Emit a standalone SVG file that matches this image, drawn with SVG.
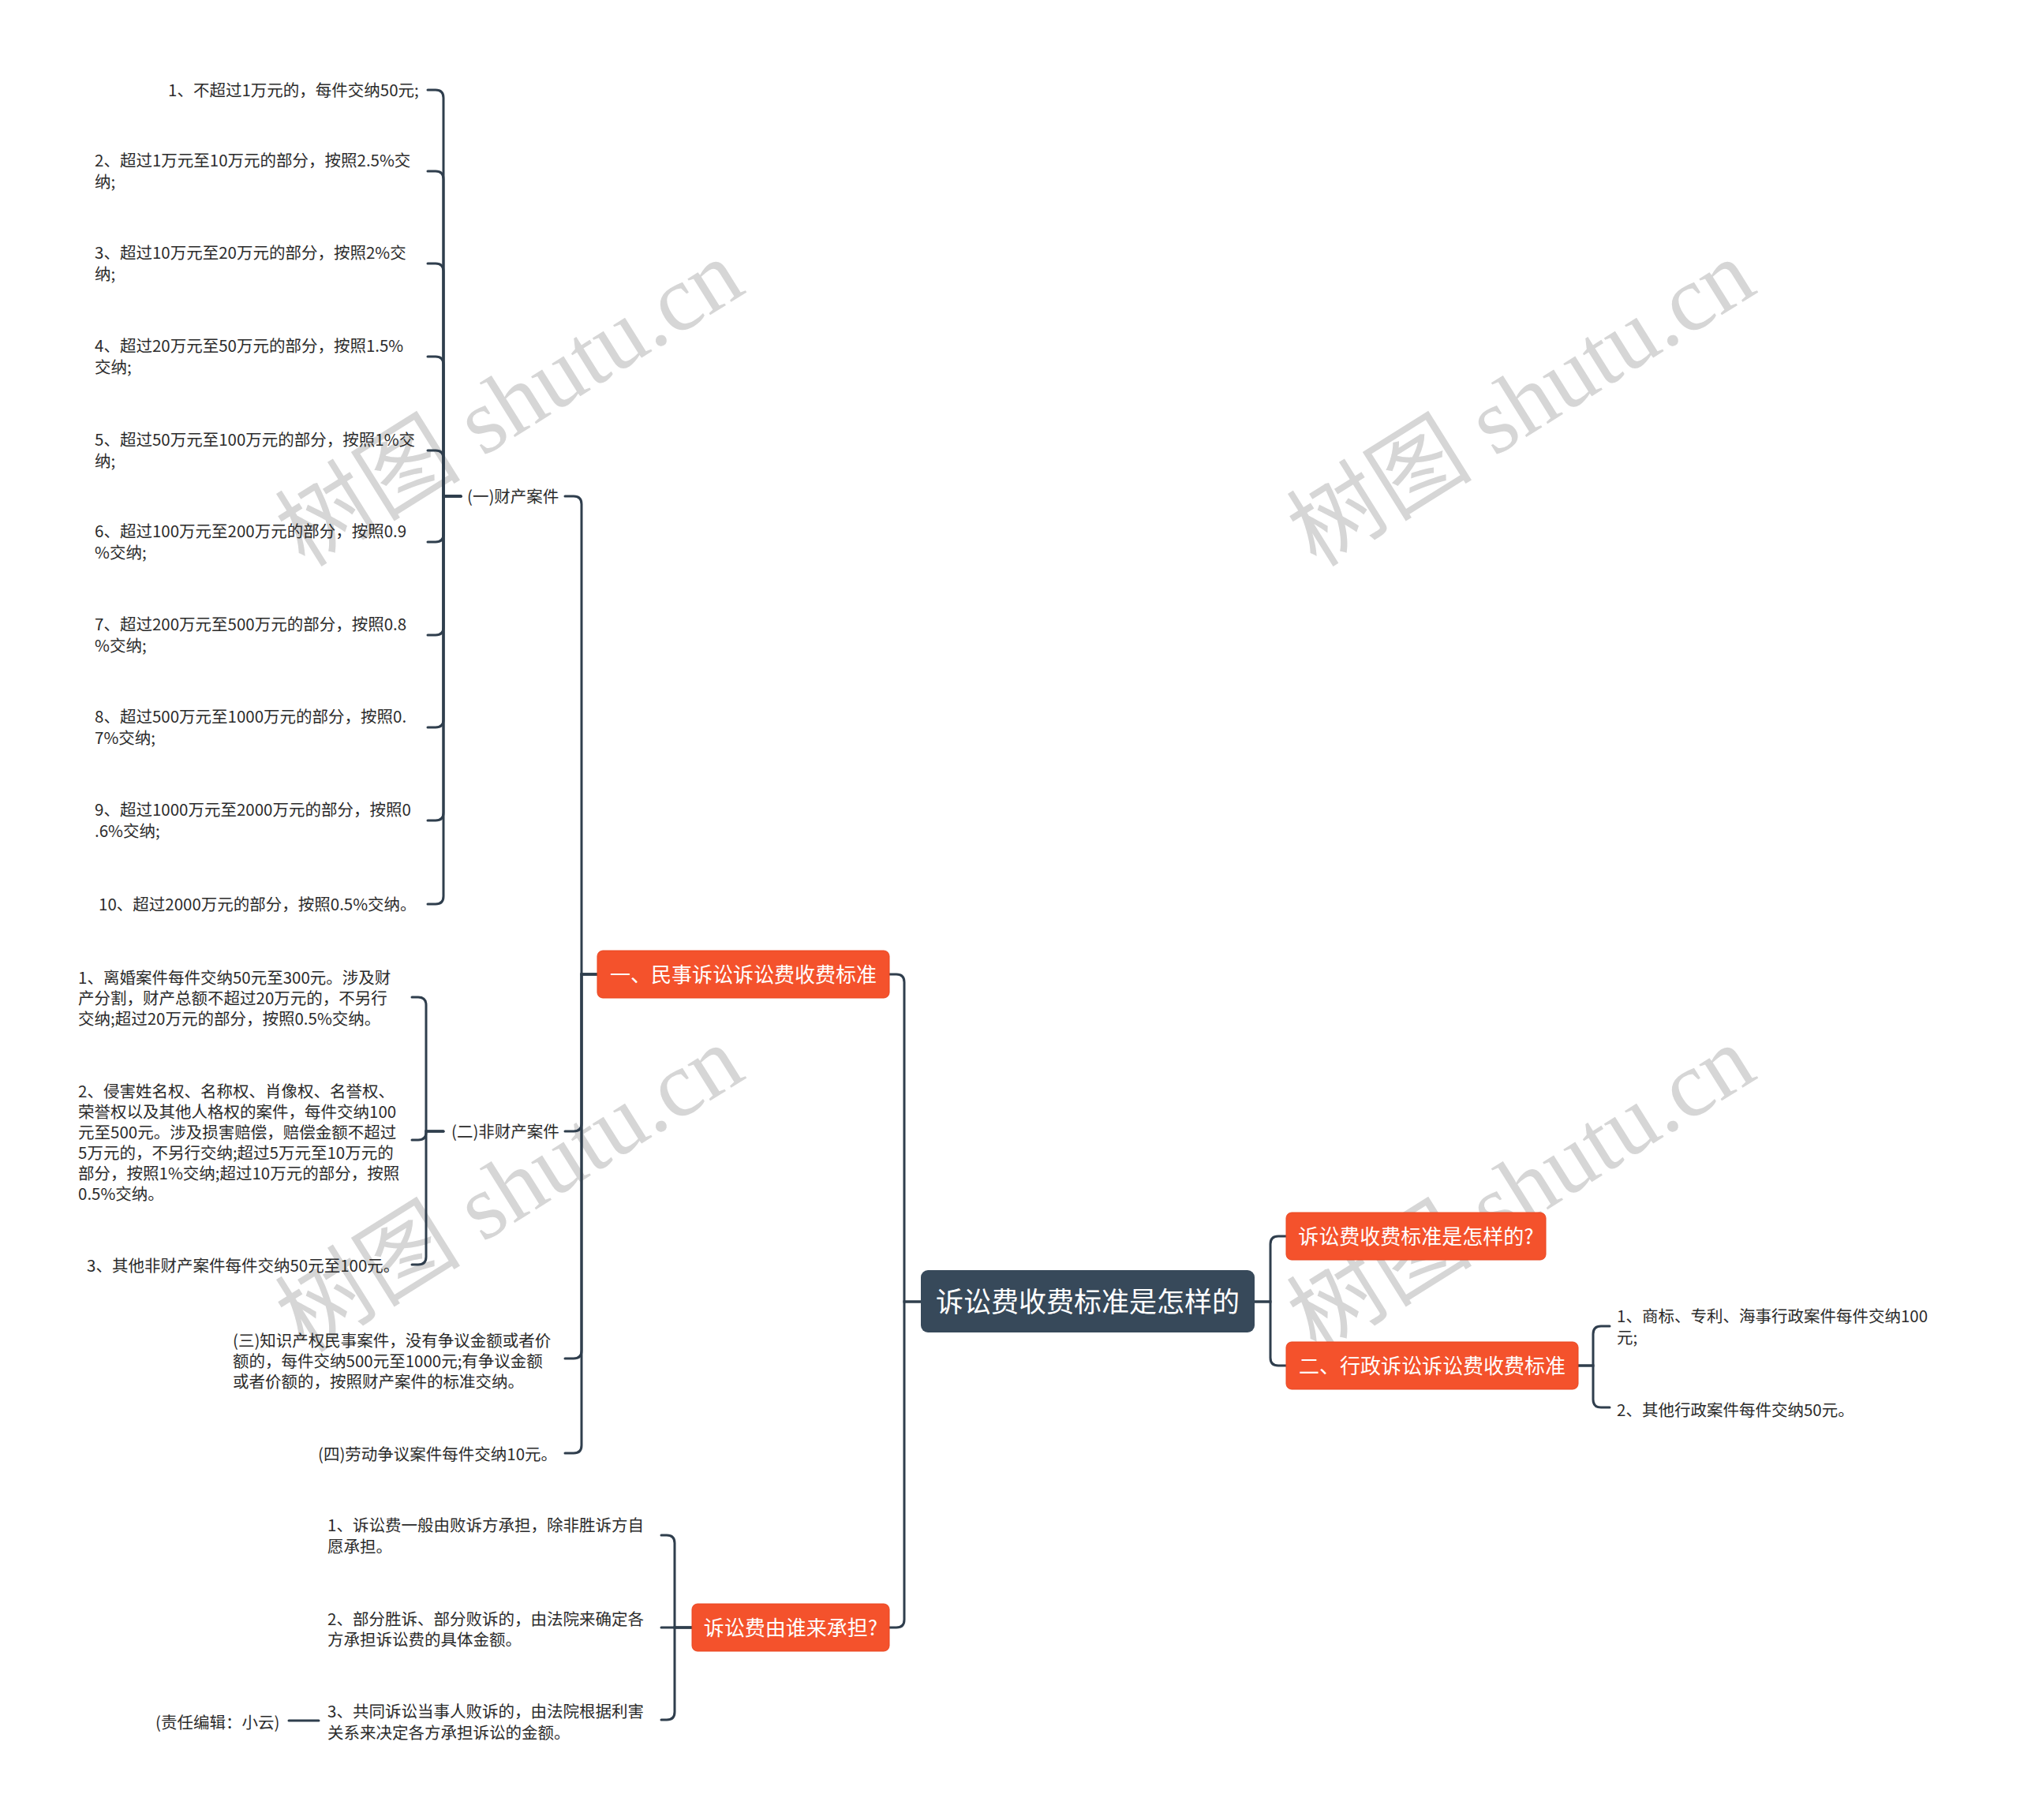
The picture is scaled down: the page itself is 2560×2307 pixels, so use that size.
<svg xmlns="http://www.w3.org/2000/svg" width="2560" height="2307" viewBox="0 0 2560 2307">
<style>
.wm{font-family:"Liberation Serif","Noto Sans CJK SC",serif;font-size:118px;fill:#d6d6d6;text-anchor:middle}
.lf{font-family:"Noto Sans CJK SC","Noto Sans",sans-serif;font-size:20.5px;fill:#2b2b2b}
.bx{fill:#f4522c;stroke:#e8451f;stroke-width:1}
.bt{font-family:"Noto Sans CJK SC","Noto Sans",sans-serif;font-size:26px;fill:#ffffff;text-anchor:middle}
.rt{font-family:"Noto Sans CJK SC","Noto Sans",sans-serif;font-size:35px;fill:#ffffff;text-anchor:middle}
.cn path{fill:none;stroke:#2f3e4d;stroke-width:3;stroke-linecap:round}
</style>
<rect x="0" y="0" width="2560" height="2307" fill="#ffffff"/>
<g id="watermarks">
<text class="wm" transform="translate(649,516) rotate(-32)" x="0" y="34">树图 shutu.cn</text>
<text class="wm" transform="translate(1931,516) rotate(-32)" x="0" y="34">树图 shutu.cn</text>
<text class="wm" transform="translate(649,1512) rotate(-32)" x="0" y="34">树图 shutu.cn</text>
<text class="wm" transform="translate(1931,1512) rotate(-32)" x="0" y="34">树图 shutu.cn</text>
</g>
<g id="connectors" class="cn">
<path d="M1167,1650 H1146 V1245 Q1146,1235 1136,1235 H1127"/>
<path d="M1167,1650 H1146 V2053 Q1146,2063 1136,2063 H1127"/>
<path d="M1590,1650 H1610 V1577 Q1610,1567 1620,1567 H1630"/>
<path d="M1590,1650 H1610 V1721 Q1610,1731 1620,1731 H1630"/>
<path d="M2000,1731 H2019 V1691 Q2019,1681 2029,1681 H2040"/>
<path d="M2000,1731 H2019 V1774 Q2019,1784 2029,1784 H2040"/>
<path d="M757,1235 H737 V639 Q737,629 727,629 H716"/>
<path d="M757,1235 H737 V1424 Q737,1434 727,1434 H716"/>
<path d="M757,1235 H737 V1712 Q737,1722 727,1722 H716"/>
<path d="M757,1235 H737 V1832 Q737,1842 727,1842 H716"/>
<path d="M584,629 H562 V124 Q562,114 552,114 H542"/>
<path d="M584,629 H562 V227 Q562,217 552,217 H542"/>
<path d="M584,629 H562 V344 Q562,334 552,334 H542"/>
<path d="M584,629 H562 V462 Q562,452 552,452 H542"/>
<path d="M584,629 H562 V581 Q562,571 552,571 H542"/>
<path d="M584,629 H562 V677 Q562,687 552,687 H542"/>
<path d="M584,629 H562 V795 Q562,805 552,805 H542"/>
<path d="M584,629 H562 V912 Q562,922 552,922 H542"/>
<path d="M584,629 H562 V1030 Q562,1040 552,1040 H542"/>
<path d="M584,629 H562 V1136 Q562,1146 552,1146 H542"/>
<path d="M562,1434 H540 V1274 Q540,1264 530,1264 H522"/>
<path d="M562,1434 H540 V1435 Q540,1445 530,1445 H522"/>
<path d="M562,1434 H540 V1593 Q540,1603 530,1603 H522"/>
<path d="M877,2063 H855 V1956 Q855,1946 845,1946 H838"/>
<path d="M877,2063 H838"/>
<path d="M877,2063 H855 V2170 Q855,2180 845,2180 H838"/>
<path d="M404,2181 H366"/>
</g>
<g id="root">
<rect x="1167" y="1610" width="423" height="79" rx="9" fill="#37495a"/>
<text class="rt" x="1378.5" y="1663">诉讼费收费标准是怎样的</text>
</g>
<g id="n-minshi">
<rect class="bx" x="757" y="1205" width="370" height="60" rx="7"/>
<text class="bt" x="942" y="1244.5">一、民事诉讼诉讼费收费标准</text>
</g>
<g id="n-who">
<rect class="bx" x="877" y="2033" width="250" height="60" rx="7"/>
<text class="bt" x="1002" y="2072.5">诉讼费由谁来承担?</text>
</g>
<g id="n-what">
<rect class="bx" x="1630" y="1537" width="329" height="60" rx="7"/>
<text class="bt" x="1794.5" y="1576.5">诉讼费收费标准是怎样的?</text>
</g>
<g id="n-xingzheng">
<rect class="bx" x="1630" y="1701" width="370" height="60" rx="7"/>
<text class="bt" x="1815" y="1740.5">二、行政诉讼诉讼费收费标准</text>
</g>
<g id="n-xz1"><text class="lf" x="2049" y="1675.5">1、商标、专利、海事行政案件每件交纳100<tspan x="2049" y="1702.5">元;</tspan></text></g>
<g id="n-xz2"><text class="lf" x="2049" y="1794.5">2、其他行政案件每件交纳50元。</text></g>
<g id="n-caichan"><text class="lf" x="592" y="636.5">(一)财产案件</text></g>
<g id="n-cc1"><text class="lf" x="213" y="121.5">1、不超过1万元的，每件交纳50元;</text></g>
<g id="n-cc2"><text class="lf" x="120" y="211">2、超过1万元至10万元的部分，按照2.5%交<tspan x="120" y="238">纳;</tspan></text></g>
<g id="n-cc3"><text class="lf" x="120" y="328">3、超过10万元至20万元的部分，按照2%交<tspan x="120" y="355">纳;</tspan></text></g>
<g id="n-cc4"><text class="lf" x="120" y="446">4、超过20万元至50万元的部分，按照1.5%<tspan x="120" y="473">交纳;</tspan></text></g>
<g id="n-cc5"><text class="lf" x="120" y="565">5、超过50万元至100万元的部分，按照1%交<tspan x="120" y="592">纳;</tspan></text></g>
<g id="n-cc6"><text class="lf" x="120" y="681">6、超过100万元至200万元的部分，按照0.9<tspan x="120" y="708">%交纳;</tspan></text></g>
<g id="n-cc7"><text class="lf" x="120" y="799">7、超过200万元至500万元的部分，按照0.8<tspan x="120" y="826">%交纳;</tspan></text></g>
<g id="n-cc8"><text class="lf" x="120" y="916">8、超过500万元至1000万元的部分，按照0.<tspan x="120" y="943">7%交纳;</tspan></text></g>
<g id="n-cc9"><text class="lf" x="120" y="1034">9、超过1000万元至2000万元的部分，按照0<tspan x="120" y="1061">.6%交纳;</tspan></text></g>
<g id="n-cc10"><text class="lf" x="125" y="1153.5">10、超过2000万元的部分，按照0.5%交纳。</text></g>
<g id="n-feicaichan"><text class="lf" x="572" y="1441.5">(二)非财产案件</text></g>
<g id="n-fc1"><text class="lf" x="99" y="1246.5">1、离婚案件每件交纳50元至300元。涉及财<tspan x="99" y="1272.5">产分割，财产总额不超过20万元的，不另行</tspan><tspan x="99" y="1298.5">交纳;超过20万元的部分，按照0.5%交纳。</tspan></text></g>
<g id="n-fc2"><text class="lf" x="99" y="1390.5">2、侵害姓名权、名称权、肖像权、名誉权、<tspan x="99" y="1416.5">荣誉权以及其他人格权的案件，每件交纳100</tspan><tspan x="99" y="1442.5">元至500元。涉及损害赔偿，赔偿金额不超过</tspan><tspan x="99" y="1468.5">5万元的，不另行交纳;超过5万元至10万元的</tspan><tspan x="99" y="1494.5">部分，按照1%交纳;超过10万元的部分，按照</tspan><tspan x="99" y="1520.5">0.5%交纳。</tspan></text></g>
<g id="n-fc3"><text class="lf" x="110" y="1611.5">3、其他非财产案件每件交纳50元至100元。</text></g>
<g id="n-zhishi"><text class="lf" x="295" y="1706.5">(三)知识产权民事案件，没有争议金额或者价<tspan x="295" y="1732.5">额的，每件交纳500元至1000元;有争议金额</tspan><tspan x="295" y="1758.5">或者价额的，按照财产案件的标准交纳。</tspan></text></g>
<g id="n-laodong"><text class="lf" x="403" y="1850.5">(四)劳动争议案件每件交纳10元。</text></g>
<g id="n-who1"><text class="lf" x="415" y="1941">1、诉讼费一般由败诉方承担，除非胜诉方自<tspan x="415" y="1967.5">愿承担。</tspan></text></g>
<g id="n-who2"><text class="lf" x="415" y="2059.5">2、部分胜诉、部分败诉的，由法院来确定各<tspan x="415" y="2085.5">方承担诉讼费的具体金额。</tspan></text></g>
<g id="n-who3"><text class="lf" x="415" y="2176.5">3、共同诉讼当事人败诉的，由法院根据利害<tspan x="415" y="2203.5">关系来决定各方承担诉讼的金额。</tspan></text></g>
<g id="n-editor"><text class="lf" x="197" y="2190.5">(责任编辑：小云)</text></g>
</svg>
